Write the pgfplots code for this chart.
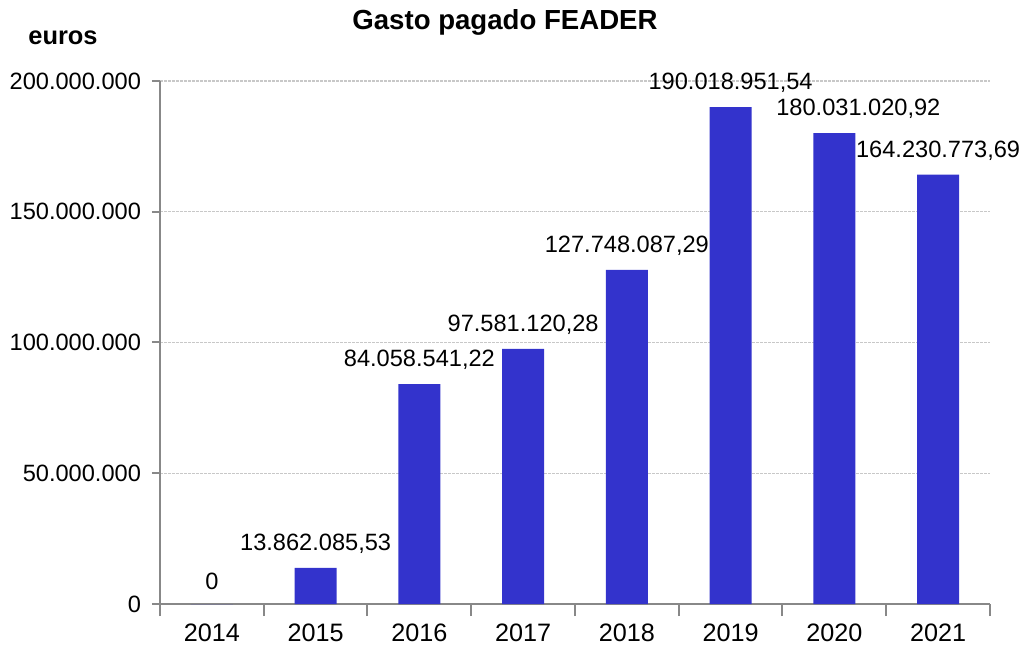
\documentclass[border=0pt]{standalone}
\usepackage{pgfplots}
\pgfplotsset{compat=1.18}
\usepackage{fontspec}
\setmainfont{Liberation Sans}
\definecolor{barblue}{HTML}{3333CC}
\definecolor{axgray}{HTML}{888888}
\definecolor{gridgray}{HTML}{C8C8C8}
\begin{document}
\begin{tikzpicture}
\useasboundingbox (-80pt,-22pt) rectangle (433.5pt,302pt);
\begin{axis}[
  scale only axis,
  width=415pt, height=261.5pt,
  ybar, bar width=21pt,
  xmin=-0.5, xmax=7.5,
  ymin=0, ymax=200000000,
  scaled y ticks=false,
  xtick={0,...,7},
  xticklabels={2014,2015,2016,2017,2018,2019,2020,2021},
  major x tick style={draw=none},
  minor xtick={-0.5,0.5,...,7.5},
  minor x tick style={draw=axgray, line width=1pt},
  minor tick length=6pt,
  ytick={0,50000000,100000000,150000000,200000000},
  yticklabels={0,50.000.000,100.000.000,150.000.000,200.000.000},
  tick align=outside,
  major tick length=4pt,
  y tick style={draw=axgray, line width=1pt},
  ymajorgrids,
  grid style={gridgray, line width=0.6pt, dash pattern=on 1.5pt off 0.5pt},
  axis x line*=bottom, axis y line*=left,
  axis line style={axgray, line width=1pt, -},
  tick label style={font=\fontsize{11.8}{14}\selectfont},
  xticklabel style={yshift=-2.5pt, font=\fontsize{12.6}{15}\selectfont},
  yticklabel style={xshift=-2pt},
  clip=false,
]
\addplot[fill=barblue, draw=none] coordinates {
(0,0) (1,13862085.53) (2,84058541.22) (3,97581120.28) (4,127748087.29) (5,190018951.54) (6,180031020.92) (7,164230773.69)};
\begin{scope}[every node/.style={font=\fontsize{11.8}{14}\selectfont, anchor=south, inner sep=0pt, yshift=7pt}]
\node at (axis cs:0,0) {0};
\node at (axis cs:1,13862085.53) {13.862.085,53};
\node at (axis cs:2,84058541.22) {84.058.541,22};
\node at (axis cs:3,97581120.28) {97.581.120,28};
\node at (axis cs:4,127748087.29) {127.748.087,29};
\node at (axis cs:5,190018951.54) {190.018.951,54};
\node[xshift=12pt] at (axis cs:6,180031020.92) {180.031.020,92};
\node at (axis cs:7,164230773.69) {164.230.773,69};
\end{scope}
\end{axis}
\node[font=\bfseries\fontsize{13.8}{16}\selectfont] at (172.5pt,291pt) {Gasto pagado FEADER};
\node[font=\bfseries\fontsize{12.7}{15}\selectfont] at (-48.5pt,283pt) {euros};
\end{tikzpicture}
\end{document}
